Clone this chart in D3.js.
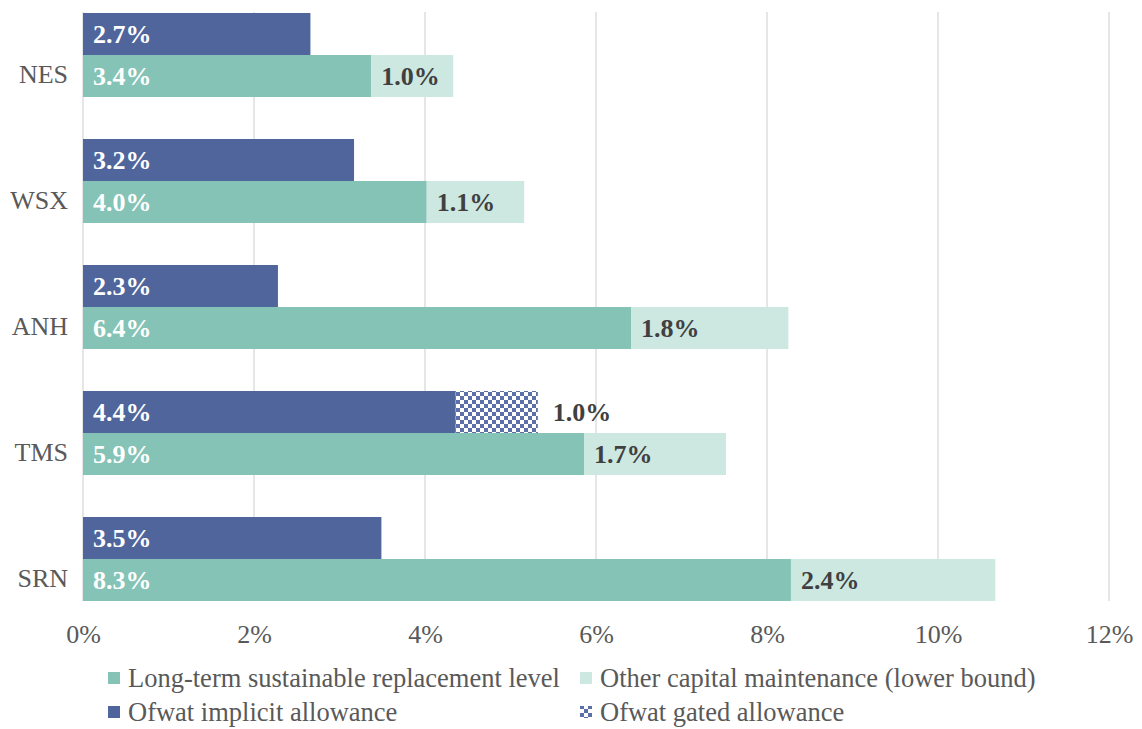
<!DOCTYPE html>
<html>
<head>
<meta charset="utf-8">
<script src="https://cdn.jsdelivr.net/npm/d3@7"></script>
<style>
  body { margin: 0; background: #fff; }
  svg { display: block; font-family: "Liberation Serif", "DejaVu Serif", serif; }
</style>
</head>
<body>
<svg id="chart" width="1142" height="729"></svg>
<script>
// companies, top to bottom
const companies = ['NES', 'WSX', 'ANH', 'TMS', 'SRN'];

// % values
const implicitAllowance = [2.66, 3.17, 2.28, 4.36, 3.49];
const gatedAllowance    = [0, 0, 0, 0.96, 0];
const replacementLevel  = [3.37, 4.02, 6.41, 5.86, 8.28];
const otherCapMaint     = [0.96, 1.14, 1.84, 1.66, 2.39];

const xTicks = [0, 2, 4, 6, 8, 10, 12];

const colors = {
  implicit: '#4f659c',
  gated: '#5b70a6',
  ltsr: '#84c3b6',
  other: '#cde7e1'
};

const svg = d3.select('#chart');

const x = d3.scaleLinear().domain([0, 12]).range([83, 1109]);
const y = d3.scaleBand().domain(companies).range([-8, 622])
  .paddingInner(1 / 3).paddingOuter(1 / 6);
const sub = d3.scaleBand().domain(['ofwat', 'company']).range([0, y.bandwidth()]);

// checker pattern for gated allowance
const defs = svg.append('defs');
const pat = defs.append('pattern')
  .attr('id', 'checker')
  .attr('patternUnits', 'userSpaceOnUse')
  .attr('width', 8).attr('height', 8);
pat.append('rect').attr('width', 8).attr('height', 8).attr('fill', '#fff');
pat.append('rect').attr('width', 4).attr('height', 4).attr('fill', colors.gated);
pat.append('rect').attr('x', 4).attr('y', 4).attr('width', 4).attr('height', 4).attr('fill', colors.gated);

// gridlines
svg.append('g')
  .selectAll('line')
  .data(xTicks)
  .enter()
  .append('line')
  .attr('x1', (d) => x(d)).attr('x2', (d) => x(d))
  .attr('y1', 12).attr('y2', 601)
  .attr('stroke', '#d9d9d9')
  .attr('stroke-width', 1.3);

// rows of data
const rows = companies.map((c, i) => ({
  name: c,
  implicit: implicitAllowance[i],
  gated: gatedAllowance[i],
  ltsr: replacementLevel[i],
  other: otherCapMaint[i]
}));

const segs = [];
rows.forEach((r) => {
  segs.push({ name: r.name, row: 'ofwat', key: 'implicit', x0: 0, v: r.implicit });
  if (r.gated > 0) segs.push({ name: r.name, row: 'ofwat', key: 'gated', x0: r.implicit, v: r.gated });
  segs.push({ name: r.name, row: 'company', key: 'ltsr', x0: 0, v: r.ltsr });
  segs.push({ name: r.name, row: 'company', key: 'other', x0: r.ltsr, v: r.other });
});

svg.append('g')
  .selectAll('rect')
  .data(segs)
  .enter()
  .append('rect')
  .attr('x', (d) => x(d.x0))
  .attr('width', (d) => x(d.x0 + d.v) - x(d.x0))
  .attr('y', (d) => y(d.name) + sub(d.row))
  .attr('height', sub.bandwidth())
  .attr('fill', (d) => d.key === 'gated' ? 'url(#checker)' : colors[d.key]);

// data labels
svg.append('g')
  .selectAll('text')
  .data(segs)
  .enter()
  .append('text')
  .attr('x', (d) => d.key === 'gated' ? x(d.x0 + d.v) + 15 : x(d.x0) + 10)
  .attr('y', (d) => y(d.name) + sub(d.row) + sub.bandwidth() / 2)
  .attr('dy', '0.35em')
  .attr('font-size', 26)
  .attr('font-weight', 'bold')
  .attr('fill', (d) => (d.key === 'implicit' || d.key === 'ltsr') ? '#ffffff' : '#404040')
  .text((d) => d.v.toFixed(1) + '%');

// category labels
svg.append('g')
  .selectAll('text')
  .data(companies)
  .enter()
  .append('text')
  .attr('x', 68)
  .attr('y', (d) => y(d) + sub('company') + sub.bandwidth() / 2)
  .attr('dy', '0.28em')
  .attr('text-anchor', 'end')
  .attr('font-size', 26)
  .attr('fill', '#595959')
  .text((d) => d);

// x axis labels
const xAxis = svg.append('g')
  .attr('transform', 'translate(0,643)')
  .call(d3.axisBottom(x).tickValues(xTicks).tickSize(0).tickPadding(0).tickFormat((d) => d + '%'));
xAxis.select('.domain').remove();
xAxis.selectAll('text')
  .attr('dy', 0)
  .attr('y', 0)
  .attr('font-family', '"Liberation Serif", serif')
  .attr('font-size', 26)
  .attr('fill', '#595959');

// legend (ly = text baseline)
const legendItems = [
  { label: 'Long-term sustainable replacement level', fill: colors.ltsr, lx: 108, ly: 687 },
  { label: 'Other capital maintenance (lower bound)', fill: colors.other, lx: 580, ly: 687 },
  { label: 'Ofwat implicit allowance', fill: colors.implicit, lx: 108, ly: 721 },
  { label: 'Ofwat gated allowance', fill: 'url(#checker)', lx: 580, ly: 721 }
];

const legend = svg.append('g')
  .selectAll('g')
  .data(legendItems)
  .enter()
  .append('g')
  .attr('transform', (d) => 'translate(' + d.lx + ',' + d.ly + ')');

legend.append('rect')
  .attr('x', 0).attr('y', -15)
  .attr('width', 12).attr('height', 12)
  .attr('fill', (d) => d.fill);

legend.append('text')
  .attr('x', 20)
  .attr('font-size', 26.5)
  .attr('fill', '#595959')
  .text((d) => d.label);
</script>
</body>
</html>
